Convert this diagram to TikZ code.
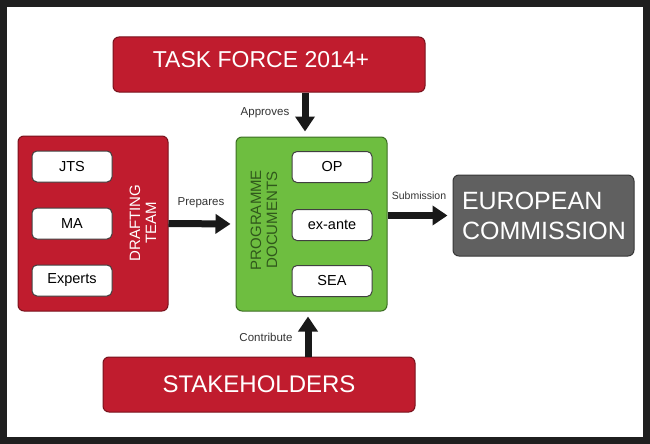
\documentclass[tikz,border=0pt]{standalone}
\usepackage{fontspec}
\setmainfont{Liberation Sans}
\usetikzlibrary{arrows.meta}

\definecolor{tfred}{RGB}{192,28,46}
\definecolor{tfredline}{RGB}{120,18,28}
\definecolor{docgreen}{RGB}{110,190,64}
\definecolor{docgreenline}{RGB}{60,110,35}
\definecolor{ecgrey}{RGB}{96,96,96}
\definecolor{ecgreyline}{RGB}{55,55,55}

\begin{document}
\begin{tikzpicture}[x=1pt,y=-1pt,
  redbox/.style={draw=tfredline,fill=tfred,rounded corners=6pt,line width=1pt,text=white},
  greenbox/.style={draw=docgreenline,fill=docgreen,rounded corners=6pt,line width=1pt},
  whitebox/.style={draw=black!75,fill=white,rounded corners=5pt,line width=1pt,
    minimum width=80pt,minimum height=31pt,font=\fontsize{14.5}{16}\selectfont},
  sidetext/.style={rotate=90,align=center,font=\fontsize{15}{16}\selectfont},
  lbl/.style={text=black!80,font=\fontsize{11.5}{13}\selectfont},
  bigarrow/.style={draw=black!90,line width=7pt,shorten >=5pt,
    -{Triangle[width=19pt,length=15pt]}}]
  \useasboundingbox (0,0) rectangle (650,444);
  \draw[line width=7pt,draw=black!88] (3.5,3.5) rectangle (646.5,440.5);

  \node[redbox,minimum width=312pt,minimum height=55pt,text height=17pt,text depth=12pt,
    font=\fontsize{23}{26}\selectfont] (taskforce) at (269,64.5) {TASK FORCE 2014+\hspace*{16pt}};

  \node[redbox,minimum width=150pt,minimum height=175pt] (drafting) at (93,223.5) {};
  \node[whitebox] (jts) at (72,166.5) {JTS};
  \node[whitebox] (ma) at (72,223.5) {MA};
  \node[whitebox] (experts) at (72,280.5) {Experts};
  \node[sidetext,text=white] (draftingtext) at (143,223) {DRAFTING\\TEAM};

  \node[greenbox,minimum width=151pt,minimum height=174pt] (programme) at (311.5,224) {};
  \node[whitebox] (op) at (332,167) {OP};
  \node[whitebox] (exante) at (332,225) {ex-ante};
  \node[whitebox] (sea) at (332,281) {SEA};
  \node[sidetext,text=docgreenline!80!black] (progtext) at (264,220) {PROGRAMME\\DOCUMENTS};

  \node[draw=ecgreyline,fill=ecgrey,rounded corners=6pt,line width=1pt,text=white,
    text width=163pt,inner xsep=9pt,minimum height=81pt,align=left,
    font=\fontsize{25}{30}\selectfont] (ec) at (543.5,215.5) {EUROPEAN\\COMMISSION};

  \node[redbox,minimum width=312pt,minimum height=55pt,
    font=\fontsize{24}{26}\selectfont] (stake) at (259,384.5) {STAKEHOLDERS};

  \draw[bigarrow] ([xshift=36pt]taskforce.south) -- ([xshift=-6.5pt]programme.north);
  \draw[bigarrow] (drafting.east) -- (programme.west);
  \draw[bigarrow] (programme.east |- ec.west) -- (ec.west);
  \draw[bigarrow] ([xshift=49pt]stake.north) -- ([xshift=-3.5pt]programme.south);

  \node[lbl] (lapproves) at (265,113) {Approves};
  \node[lbl] (lprepares) at (201,203) {Prepares};
  \node[lbl,font=\fontsize{10.5}{12}\selectfont] (lsubmit) at (419,196) {Submission};
  \node[lbl] (lcontrib) at (266,337) {Contribute};
\end{tikzpicture}
\end{document}
